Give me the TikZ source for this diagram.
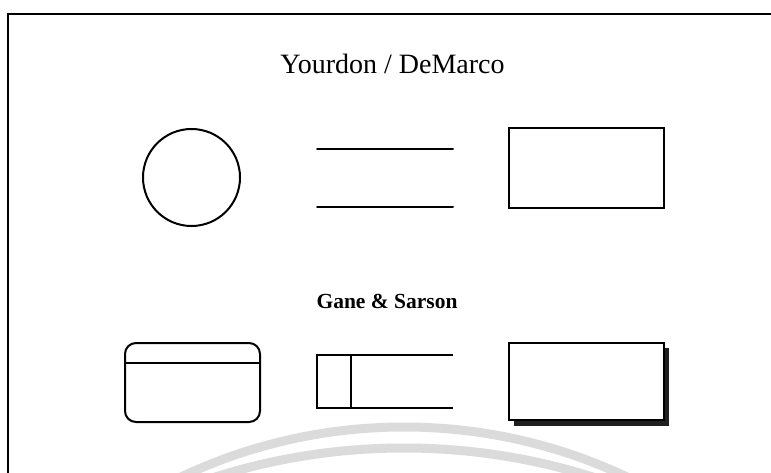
\documentclass[tikz,border=0pt]{standalone}
\usepackage{fontspec}
\setmainfont{Liberation Serif}
\begin{document}
\begin{tikzpicture}[x=1pt,y=-1pt,
  symbox/.style={draw=black,line width=2pt,inner sep=0pt},
  wmarkarc/.style={line width=9pt,draw=black!14},
  framestyle/.style={line width=1.7pt}]
\useasboundingbox (0,0) rectangle (771,473);
\begin{scope}
\clip (0,0) rectangle (771,473);
% watermark arcs
\draw[wmarkarc] (404,948) circle[radius=521];
\draw[wmarkarc] (404,1073) circle[radius=625];
% frame
\draw[framestyle] (8,480) -- (8,14) -- (780,14);
\end{scope}
% titles
\node[anchor=base,font=\fontsize{28}{32}\selectfont] (t1) at (392.5,74) {Yourdon / DeMarco};
\node[anchor=base,font=\fontsize{21.5}{26}\selectfont\bfseries] (t2) at (387,308) {Gane \& Sarson};
% Yourdon shapes
\node[symbox,circle,minimum size=97pt] (proc) at (191.5,177.5) {};
\coordinate (s1a) at (317,149); \coordinate (s1b) at (453,149);
\coordinate (s2a) at (317,207); \coordinate (s2b) at (453,207);
\draw[line width=2pt,line cap=round] (s1a) -- (s1b);
\draw[line width=2pt,line cap=round] (s2a) -- (s2b);
\node[symbox,rectangle,minimum width=155pt,minimum height=80pt] (ent) at (586.5,168) {};
% Gane & Sarson shapes
\node[symbox,rectangle,rounded corners=11pt,minimum width=135pt,minimum height=79pt] (gproc) at (192.5,382.5) {};
\draw[line width=1.8pt] (gproc.west |- 0,363) -- (gproc.east |- 0,363);
\coordinate (d1) at (453,355); \coordinate (d2) at (453,408);
\draw[line width=2pt] (d1) -- (317,355) -- (317,408) -- (d2);
\draw[line width=1.8pt] (351,355) -- (351,408);
\fill[black!88] (514,348) rectangle (669,426);
\node[symbox,rectangle,fill=white,minimum width=155pt,minimum height=77pt] (gent) at (586.5,381.5) {};
\end{tikzpicture}
\end{document}
